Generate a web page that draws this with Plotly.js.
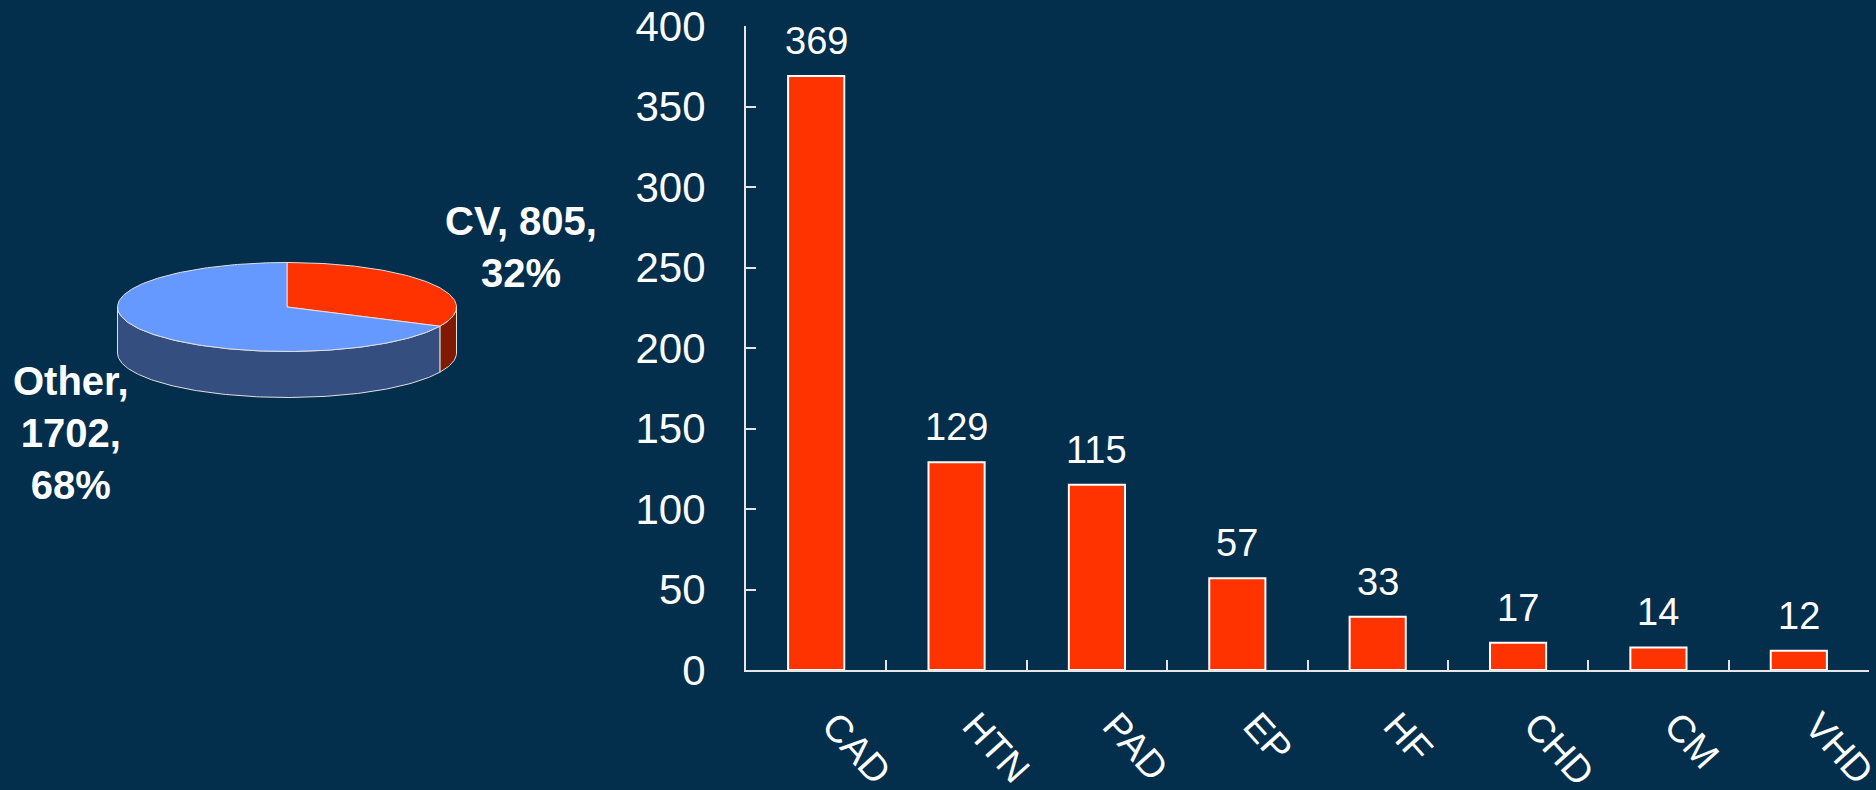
<!DOCTYPE html>
<html><head><meta charset="utf-8">
<script src="https://cdn.plot.ly/plotly-3.0.1.min.js"></script>
<style>html,body{margin:0;padding:0;background:#032E4C;overflow:hidden;}</style>
</head><body><div id="chart" style="width:1876px;height:790px;"></div>
<script>
// ---- data ----
const categories = ['CAD','HTN','PAD','EP','HF','CHD','CM','VHD'];
const counts = [369,129,115,57,33,17,14,12];
const yTickVals = [0,50,100,150,200,250,300,350,400];
const pieLabels = ['CV','Other'];
const pieValues = [805,1702];
const piePercents = [32,68];

// ---- style ----
const W=1876, H=790;
const BG='#032E4C';
const AX='#E6E6E6';
const FONT='Liberation Sans, Arial, Helvetica, sans-serif';
const topColors = ['#FF3300','#6699FF'];
const sideColors = ['#7F1900','#354E80'];
const EDGE='#E0E0E0';

// pie geometry (pixel space of the pie axes)
const cx=287, cy=307, rx=169.5, ry=44.5, depth=46;
function pt(theta, dy){ const t=theta*Math.PI/180; return [cx+rx*Math.sin(t), cy - ry*Math.cos(t) + (dy||0)]; }
function arc(a1,a2,dy){ const xs=[],ys=[]; const n=Math.max(2,Math.ceil(Math.abs(a2-a1))); for(let i=0;i<=n;i++){const a=a1+(a2-a1)*i/n; const p=pt(a,dy); xs.push(p[0]); ys.push(p[1]);} return [xs,ys]; }

const total = pieValues.reduce((a,b)=>a+b,0);
const traces = [];
let start = 0;
const slices = pieValues.map(v => { const s = start; const e = start + 360*v/total; start = e; return [s,e]; });

// side walls (front half: 90..270)
slices.forEach(([s,e],i)=>{
  const a=Math.max(s,90), b=Math.min(e,270);
  if (b<=a) return;
  const [tx,ty]=arc(a,b,0); const [bx,by]=arc(b,a,depth);
  traces.push({type:'scatter',mode:'lines',x:tx.concat(bx,[tx[0]]),y:ty.concat(by,[ty[0]]),fill:'toself',fillcolor:sideColors[i],
    line:{color:EDGE,width:1},xaxis:'x2',yaxis:'y2',hoverinfo:'skip',showlegend:false});
});
// top slices
slices.forEach(([s,e],i)=>{
  const [ax,ay]=arc(s,e,0);
  traces.push({type:'scatter',mode:'lines',x:[cx].concat(ax,[cx]),y:[cy].concat(ay,[cy]),fill:'toself',fillcolor:topColors[i],
    line:{color:EDGE,width:1},xaxis:'x2',yaxis:'y2',hoverinfo:'skip',showlegend:false});
});

// bars
traces.push({type:'bar',x:categories,y:counts,width:0.4,marker:{color:'#FF3300',line:{color:'#FFFFFF',width:2}},
  hoverinfo:'x+y',showlegend:false});

const annotations = counts.map((v,i)=>({x:categories[i],y:v,xref:'x',yref:'y',text:String(v),showarrow:false,
  yanchor:'bottom',yshift:12,font:{family:FONT,size:38,color:'#FFFFFF'}}));

annotations.push({xref:'x2',yref:'y2',x:521,y:247,text:`<b>${pieLabels[0]}, ${pieValues[0]},<br>${piePercents[0]}%</b>`,
  showarrow:false,xanchor:'center',yanchor:'middle',align:'center',font:{family:FONT,size:40,color:'#FFFFFF'}});
annotations.push({xref:'x2',yref:'y2',x:71,y:433,text:`<b>${pieLabels[1]},<br>${pieValues[1]},<br>${piePercents[1]}%</b>`,
  showarrow:false,xanchor:'center',yanchor:'middle',align:'center',font:{family:FONT,size:40,color:'#FFFFFF'}});

const layout = {
  width:W, height:H, paper_bgcolor:BG, plot_bgcolor:'rgba(0,0,0,0)',
  margin:{l:0,r:0,t:0,b:0,pad:0}, showlegend:false,
  xaxis:{domain:[746/W,1869/W],type:'category',range:[-0.5,7.5],showline:true,linecolor:AX,linewidth:2,
    ticks:'inside',tickson:'boundaries',ticklen:10,tickwidth:2,tickcolor:AX,tickangle:48,
    tickfont:{family:FONT,size:38,color:'#FFFFFF'},ticklabelstandoff:16,ticklabelshift:18,showgrid:false,zeroline:false,fixedrange:true},
  yaxis:{domain:[120/H,764/H],range:[0,400],showline:true,linecolor:AX,linewidth:2,ticks:'inside',ticklen:10,tickwidth:2,
    tickcolor:AX,tickvals:yTickVals,tickfont:{family:FONT,size:42,color:'#FFFFFF'},ticklabelstandoff:30,
    showgrid:false,zeroline:false,fixedrange:true},
  xaxis2:{domain:[0,650/W],range:[0,650],anchor:'y2',visible:false,fixedrange:true},
  yaxis2:{domain:[0,1],range:[H,0],anchor:'x2',visible:false,fixedrange:true},
  annotations: annotations
};
Plotly.newPlot('chart', traces, layout, {displayModeBar:false, staticPlot:true});
</script></body></html>
